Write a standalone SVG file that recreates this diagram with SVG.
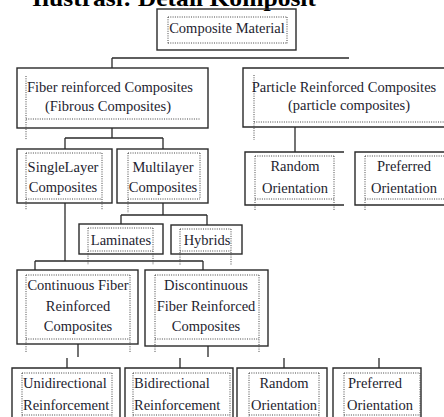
<svg xmlns="http://www.w3.org/2000/svg" width="444" height="417" viewBox="0 0 444 417">
<style>
.box{fill:none;stroke:#2a2a2a;stroke-width:1.4}
.dot{fill:none;stroke:#444;stroke-width:1;stroke-dasharray:1 1.3}
.con{fill:none;stroke:#2a2a2a;stroke-width:1.3}
text{font-family:"Liberation Serif","Times New Roman",serif;font-size:14.5px;fill:#1e1e30}
.c{text-anchor:middle}
.title{font-size:23px;font-weight:bold;fill:#000}
</style>
<rect width="444" height="417" fill="#fff"/>
<text class="title" x="32" y="6" textLength="284" lengthAdjust="spacingAndGlyphs">Ilustrasi: Detail Komposit</text>
<g id="connectors">
<path class="con" d="M112 58H349M112 58V68M112 128V138M65 138H163M65 138V149M163 138V149M163 203V215M121 215H207M121 215V224M207 215V225M65 203V261M35 261H203M35 261V270M203 261V270M295 127V152M78 344V357M67 358V368M208 346V357M180 358V368M284 358V368M379 358V368"/>
</g>
<g id="composite-material">
<rect class="box" x="157" y="9" width="139" height="41"/>
<path class="dot" d="M168 17H287M168 17V44M287 17V44M168 43H287"/>
<text class="c" x="227" y="33">Composite Material</text>
</g>
<g id="fiber">
<rect class="box" x="17" y="68" width="191" height="60"/>
<path class="dot" d="M26 76V140M26 119H200"/>
<text class="c" x="110" y="92">Fiber reinforced Composites</text>
<text class="c" x="108" y="111">(Fibrous Composites)</text>
</g>
<g id="particle">
<path class="box" d="M444 68H243V127H444"/>
<path class="dot" d="M254 75V140M254 122H444"/>
<text class="c" x="344" y="92">Particle Reinforced Composites</text>
<text class="c" x="349" y="110">(particle composites)</text>
</g>
<g id="single-layer">
<rect class="box" x="17" y="149" width="95" height="54"/>
<path class="dot" d="M26 153H102M26 153V210M102 153V210M26 199H102"/>
<text class="c" x="63" y="172">SingleLayer</text>
<text class="c" x="63" y="192">Composites</text>
</g>
<g id="multilayer">
<rect class="box" x="117" y="149" width="91" height="54"/>
<path class="dot" d="M128 153H200M128 153V213M200 153V199M128 199H200"/>
<text class="c" x="163" y="172">Multilayer</text>
<text class="c" x="163" y="192">Composites</text>
</g>
<g id="random-top">
<path class="box" d="M344 152H245V205H344"/>
<path class="dot" d="M255 156H334M255 156V210M334 156V210M255 199H334"/>
<text class="c" x="295" y="171">Random</text>
<text class="c" x="295" y="193">Orientation</text>
</g>
<g id="preferred-top">
<path class="box" d="M444 152H355V205H444"/>
<path class="dot" d="M365 156H444M365 156V210M365 199H444"/>
<text class="c" x="404" y="171">Preferred</text>
<text class="c" x="404" y="193">Orientation</text>
</g>
<g id="laminates">
<rect class="box" x="79" y="224" width="84" height="30"/>
<path class="dot" d="M88 228H153M88 228V265M153 228V265M88 251H153"/>
<text class="c" x="121" y="245">Laminates</text>
</g>
<g id="hybrids">
<rect class="box" x="171" y="225" width="71" height="29"/>
<path class="dot" d="M180 229H231M180 229V265M231 229V265M180 251H231"/>
<text class="c" x="207" y="245">Hybrids</text>
</g>
<g id="continuous">
<rect class="box" x="17" y="270" width="121" height="74"/>
<path class="dot" d="M26 275H130M26 275V352M130 275V352M26 339H130"/>
<text class="c" x="78" y="290">Continuous Fiber</text>
<text class="c" x="78" y="311">Reinforced</text>
<text class="c" x="78" y="331">Composites</text>
</g>
<g id="discontinuous">
<rect class="box" x="145" y="270" width="123" height="76"/>
<path class="dot" d="M155 275H259M155 275V352M259 275V352M155 339H259"/>
<text class="c" x="206" y="290">Discontinuous</text>
<text class="c" x="206" y="311">Fiber Reinforced</text>
<text class="c" x="206" y="331">Composites</text>
</g>
<g id="unidirectional">
<path class="box" d="M12 420V368H120V420"/>
<path class="dot" d="M22 373H112M22 373V420M112 373V420M22 415H112"/>
<text x="23" y="388">Unidirectional</text>
<text x="23" y="410">Reinforcement</text>
</g>
<g id="bidirectional">
<path class="box" d="M125 420V368H233V420"/>
<path class="dot" d="M133 373H230M133 373V420M230 373V420M133 415H230"/>
<text x="134" y="388">Bidirectional</text>
<text x="134" y="410">Reinforcement</text>
</g>
<g id="random-bottom">
<path class="box" d="M237 420V368H327V420"/>
<path class="dot" d="M249 373H319M249 373V420M319 373V420M249 415H319"/>
<text class="c" x="284" y="388">Random</text>
<text class="c" x="284" y="410">Orientation</text>
</g>
<g id="preferred-bottom">
<path class="box" d="M333 420V368H421V420"/>
<path class="dot" d="M344 373H420M344 373V420M420 373V420M344 415H420"/>
<text x="348" y="388">Preferred</text>
<text x="347" y="410">Orientation</text>
</g>
</svg>
